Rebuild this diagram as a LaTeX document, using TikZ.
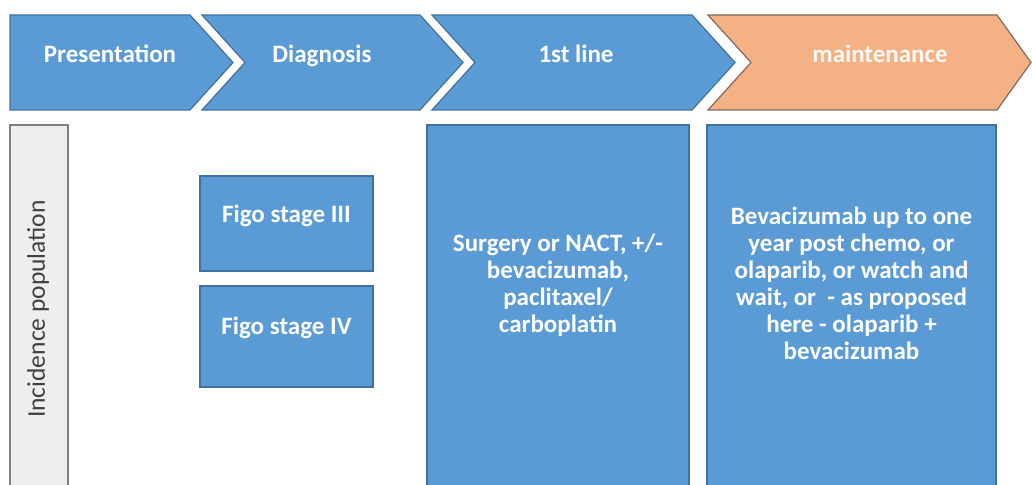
\documentclass[tikz,border=0pt]{standalone}
\usepackage{fontspec}
\setmainfont{Carlito}
\usepackage{xcolor}
\usetikzlibrary{positioning}
\definecolor{StageBlue}{HTML}{5B9BD5}
\definecolor{StageEdge}{HTML}{41719C}
\definecolor{StageOrange}{HTML}{F4B183}
\definecolor{OrangeEdge}{HTML}{7E6B5E}
\definecolor{PopGrey}{HTML}{EEEEEE}
\definecolor{PopEdge}{HTML}{7F7F7F}
\definecolor{PopText}{HTML}{404040}

\begin{document}
\begin{tikzpicture}[x=1pt,y=-1pt,font=\fontsize{25}{27}\selectfont\bfseries,
  stagelbl/.style={text=white,inner sep=0pt,anchor=base},
  boxlbl/.style={text=white,align=center,inner sep=0pt}]
  \useasboundingbox (0,0) rectangle (1032,484);
  \fill[white] (0,0) rectangle (1032,484);
  % stage arrows
  \filldraw[fill=StageBlue,draw=StageEdge,line width=1.2pt] (10,15)--(190,15)--(233,62.5)--(190,110)--(10,110)--cycle;
  \filldraw[fill=StageBlue,draw=StageEdge,line width=1.2pt] (202,15)--(420,15)--(463,62.5)--(420,110)--(202,110)--(245,62.5)--cycle;
  \filldraw[fill=StageBlue,draw=StageEdge,line width=1.2pt] (432,15)--(692,15)--(735,62.5)--(692,110)--(432,110)--(475,62.5)--cycle;
  \filldraw[fill=StageOrange,draw=OrangeEdge,line width=1.2pt] (708,15)--(997,15)--(1031,62.5)--(997,110)--(708,110)--(751,62.5)--cycle;
  \node[stagelbl] (presentation) at (110,63) {Presentation};
  \node[stagelbl] (diagnosis) at (322,63) {Diagnosis};
  \node[stagelbl] (firstline) at (576,63) {1st line};
  \node[stagelbl,text=white!92!StageOrange] (maintenance) at (880,63) {maintenance};
  % lower boxes
  \filldraw[fill=PopGrey,draw=PopEdge,line width=1.5pt] (10,125) rectangle (68,488);
  \filldraw[fill=StageBlue,draw=StageEdge,line width=1.2pt] (200,176) rectangle (373,271);
  \filldraw[fill=StageBlue,draw=StageEdge,line width=1.2pt] (200,286) rectangle (373,387);
  \filldraw[fill=StageBlue,draw=StageEdge,line width=1.2pt] (427,125) rectangle (689,488);
  \filldraw[fill=StageBlue,draw=StageEdge,line width=1.2pt] (707,125) rectangle (996,488);
  \node[rotate=90,text=PopText,font=\fontsize{25.5}{27}\selectfont,inner sep=0pt] (incidence) at (38,309) {Incidence population};
  \node[boxlbl] (figoiii) at (286.5,216) {Figo stage III};
  \node[boxlbl] (figoiv) at (286.5,328) {Figo stage IV};
  \node[boxlbl] (firstbox) at (558,285) {Surgery or NACT, +/-\\bevacizumab,\\paclitaxel/\\carboplatin};
  \node[boxlbl] (maintbox) at (851.5,283) {Bevacizumab up to one\\year post chemo, or\\olaparib, or watch and\\wait, or\ \ - as proposed\\here - olaparib +\\bevacizumab};
\end{tikzpicture}
\end{document}
